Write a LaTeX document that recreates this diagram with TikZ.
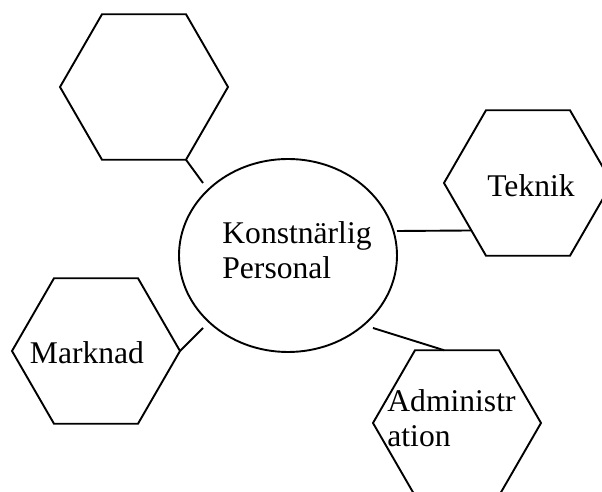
\documentclass[tikz,border=0pt]{standalone}
\usepackage{fontspec}
\setmainfont{Liberation Serif}
\usetikzlibrary{shapes.geometric}
\begin{document}
\begin{tikzpicture}[x=0.5pt,y=-0.5pt,
  hexa/.style={draw, regular polygon, regular polygon sides=6, minimum size=84pt, inner sep=0pt, outer sep=0pt, line width=0.95pt},
  oval/.style={draw, ellipse, minimum width=109pt, minimum height=96.5pt, inner sep=0pt, outer sep=0pt, line width=0.95pt},
  lbl/.style={font=\fontsize{15.8pt}{17.5pt}\selectfont, align=left, inner sep=0pt},
  conn/.style={line width=0.95pt}]
\useasboundingbox (0,0) rectangle (602,492);
\node[hexa] (tl) at (144,87) {};
\node[hexa] (tk) at (528,183) {};
\node[hexa] (mk) at (96,351) {};
\node[hexa] (ad) at (457,423) {};
\node[oval] (kp) at (288,255.5) {};
\node[lbl] (kpt) at (297,250) {Konstnärlig\\Personal};
\node[lbl] (tkt) at (531,185.5) {Teknik};
\node[lbl] (mkt) at (87,352.5) {Marknad};
\node[lbl] (adt) at (451.5,418.5) {Administr\\ation};
\coordinate (e1) at (203,183);
\coordinate (e2) at (203,328);
\coordinate (e3) at (373,328);
\coordinate (e4) at (397,231);
\draw[conn] (tl.-60) -- (e1);
\draw[conn] (mk.0) -- (e2);
\draw[conn] (e3) -- (ad.100);
\draw[conn] (e4) -- (tk.220);
\end{tikzpicture}
\end{document}
